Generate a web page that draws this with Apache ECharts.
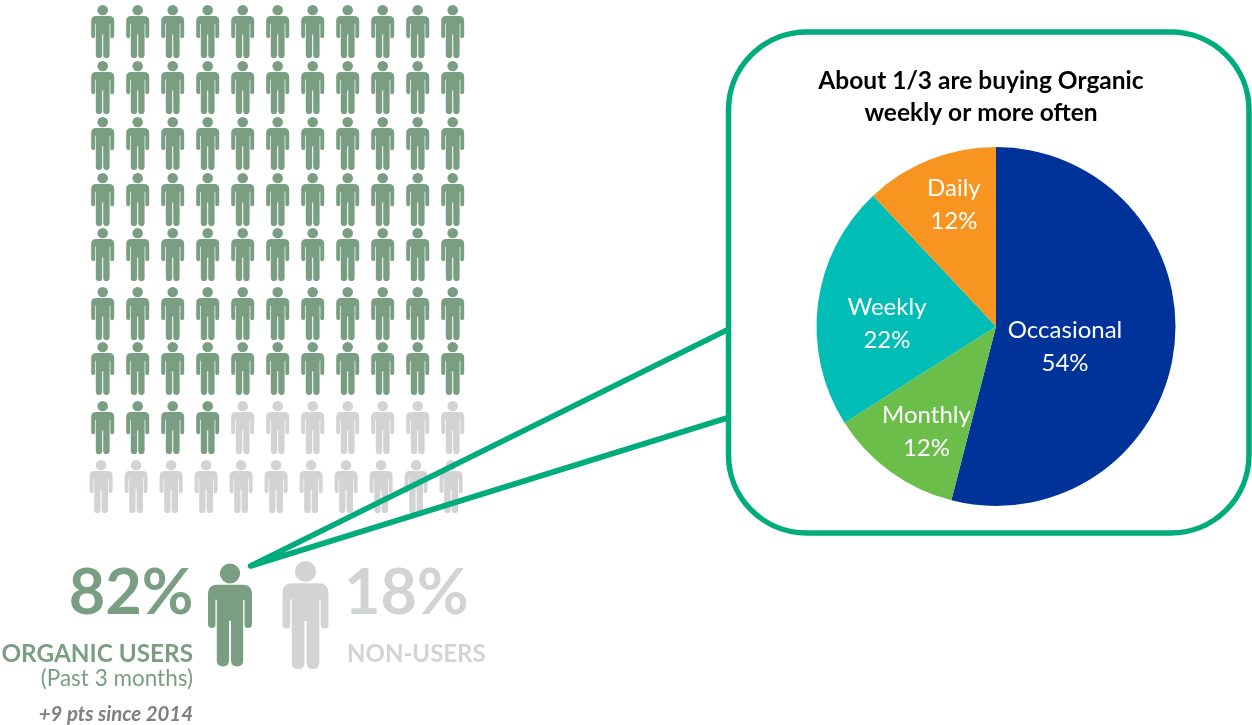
<!DOCTYPE html>
<html>
<head>
<meta charset="utf-8">
<style>html,body{margin:0;padding:0;background:#fff}#chart{width:1252px;height:725px}</style>
<script src="https://cdn.jsdelivr.net/npm/echarts@6/dist/echarts.min.js"></script>
</head>
<body>
<div id="chart"></div>
<script>
// Frequency of organic buying
const frequencyNames = ['Occasional', 'Monthly', 'Weekly', 'Daily'];
const frequencyValues = [54, 12, 22, 12];

// Headline shares and the people they are shown as
const organicShare = 82;
const nonUserShare = 18;
const organicIcons = 81;
const nonUserIcons = 18;
const iconsPerRow = 11;
const rowCount = 9;

// Palette
const GREEN = '#799e82';
const GREY = '#d1d3d4';
const CALLOUT = '#00ab7c';
const sliceColors = ['#003399', '#6cbe4b', '#00bdb5', '#f79520'];

// Layout tweaks, in pixels
const rowNudge = [0, -0.9, -1.8, -2.6, -4.5, -2.4, -4.3, -2.1, 0];
const lastRowShift = -1.6;
const labelShift = {
  Occasional: [-23, 9],
  Monthly: [-15, 30.5],
  Weekly: [-17, 9],
  Daily: [-8, -35]
};

const FONT = 'Lato, "Noto Sans", sans-serif';

// Standing figure: round head above a body with slits beside the arms and between the legs
const PERSON =
  'M65 0A30 30 0 1 1 65 60A30 30 0 1 1 65 0Z' +
  'M28 64L102 64Q130 64 130 92L130 182Q130 194 118 194Q108 194 108 184L108 110L104 110' +
  'L104 292Q104 310 86 310Q68 310 68 292L68 172L62 172L62 292Q62 310 44 310Q26 310 26 292' +
  'L26 110L22 110L22 184Q22 194 12 194Q0 194 0 182L0 92Q0 64 28 64Z';

function iconCells(count, firstIndex) {
  const cells = [];
  for (let i = firstIndex; i < firstIndex + count; i++) {
    const col = i % iconsPerRow;
    const row = Math.floor(i / iconsPerRow);
    cells.push({
      value: [col, row],
      symbolOffset: [row === rowCount - 1 ? lastRowShift : 0, rowNudge[row]]
    });
  }
  return cells;
}

function iconSeries(count, firstIndex, color) {
  return {
    type: 'scatter',
    silent: true,
    z: 2,
    symbol: 'path://' + PERSON,
    symbolSize: [23, 53],
    itemStyle: { color: color, opacity: 1 },
    data: iconCells(count, firstIndex)
  };
}

function text(str, x, y, fill, font, align) {
  return {
    type: 'text',
    z: 6,
    silent: true,
    style: {
      text: str, x: x, y: y, fill: fill, font: font,
      textAlign: align, textVerticalAlign: 'middle'
    }
  };
}

const chart = echarts.init(document.getElementById('chart'), null, { renderer: 'canvas' });

chart.setOption({
  animation: false,
  backgroundColor: '#ffffff',
  title: {
    text: 'About 1/3 are buying Organic\nweekly or more often',
    left: 976,
    top: 60,
    textAlign: 'center',
    textStyle: {
      color: '#000000',
      fontFamily: FONT,
      fontWeight: 'bold',
      fontSize: 24.5,
      lineHeight: 32
    }
  },
  grid: [
    { left: 102.7, width: 350, top: 31.5, height: 455 },
    { left: 230, width: 75.5, top: 614, height: 1 }
  ],
  xAxis: [
    { type: 'value', gridIndex: 0, min: 0, max: iconsPerRow - 1, show: false },
    { type: 'value', gridIndex: 1, min: 0, max: 1, show: false }
  ],
  yAxis: [
    { type: 'value', gridIndex: 0, min: 0, max: rowCount - 1, inverse: true, show: false },
    { type: 'value', gridIndex: 1, min: 0, max: 1, show: false }
  ],
  series: [
    iconSeries(organicIcons, 0, GREEN),
    iconSeries(nonUserIcons, organicIcons, GREY),
    {
      // The two large figures beside the headline shares
      type: 'scatter',
      silent: true,
      z: 6,
      xAxisIndex: 1,
      yAxisIndex: 1,
      symbol: 'path://' + PERSON,
      itemStyle: { opacity: 1 },
      data: [
        { value: [0, 0], symbolSize: [44, 103], itemStyle: { color: GREEN } },
        { value: [1, 0], symbolSize: [46, 108], itemStyle: { color: GREY } }
      ]
    },
    {
      type: 'pie',
      silent: true,
      z: 5,
      center: [996, 326.5],
      radius: [0, 179.5],
      startAngle: 90,
      clockwise: true,
      label: {
        show: true,
        position: 'inside',
        color: '#ffffff',
        fontFamily: FONT,
        fontSize: 24,
        lineHeight: 33,
        formatter: '{b}\n{c}%'
      },
      labelLine: { show: false },
      labelLayout: function (params) {
        const shift = labelShift[frequencyNames[params.dataIndex]];
        return { dx: shift[0], dy: shift[1] };
      },
      data: frequencyNames.map(function (name, i) {
        return { name: name, value: frequencyValues[i], itemStyle: { color: sliceColors[i] } };
      })
    }
  ],
  graphic: {
    elements: [
      {
        type: 'polyline',
        z: 3,
        silent: true,
        shape: { points: [[727, 330], [250.5, 566], [727, 418]] },
        style: { stroke: CALLOUT, lineWidth: 5.5, lineCap: 'round', lineJoin: 'round', fill: null }
      },
      {
        type: 'rect',
        z: 4,
        silent: true,
        shape: { x: 728.5, y: 32, width: 520.5, height: 501, r: 78 },
        style: { fill: '#ffffff', stroke: CALLOUT, lineWidth: 5.5 }
      },
      text(organicShare + '%', 193.5, 594, GREEN, 'bold 63px ' + FONT, 'right'),
      text(nonUserShare + '%', 344, 594, GREY, 'bold 63px ' + FONT, 'left'),
      text('ORGANIC USERS', 193, 654, GREEN, 'bold 24.3px ' + FONT, 'right'),
      text('NON-USERS', 347, 654, GREY, 'bold 24px ' + FONT, 'left'),
      text('(Past 3 months)', 193, 679, GREEN, '22.5px ' + FONT, 'right'),
      text('+9 pts since 2014', 193, 714, '#7f7f7f', 'italic bold 20.4px ' + FONT, 'right')
    ]
  }
});
</script>
</body>
</html>
